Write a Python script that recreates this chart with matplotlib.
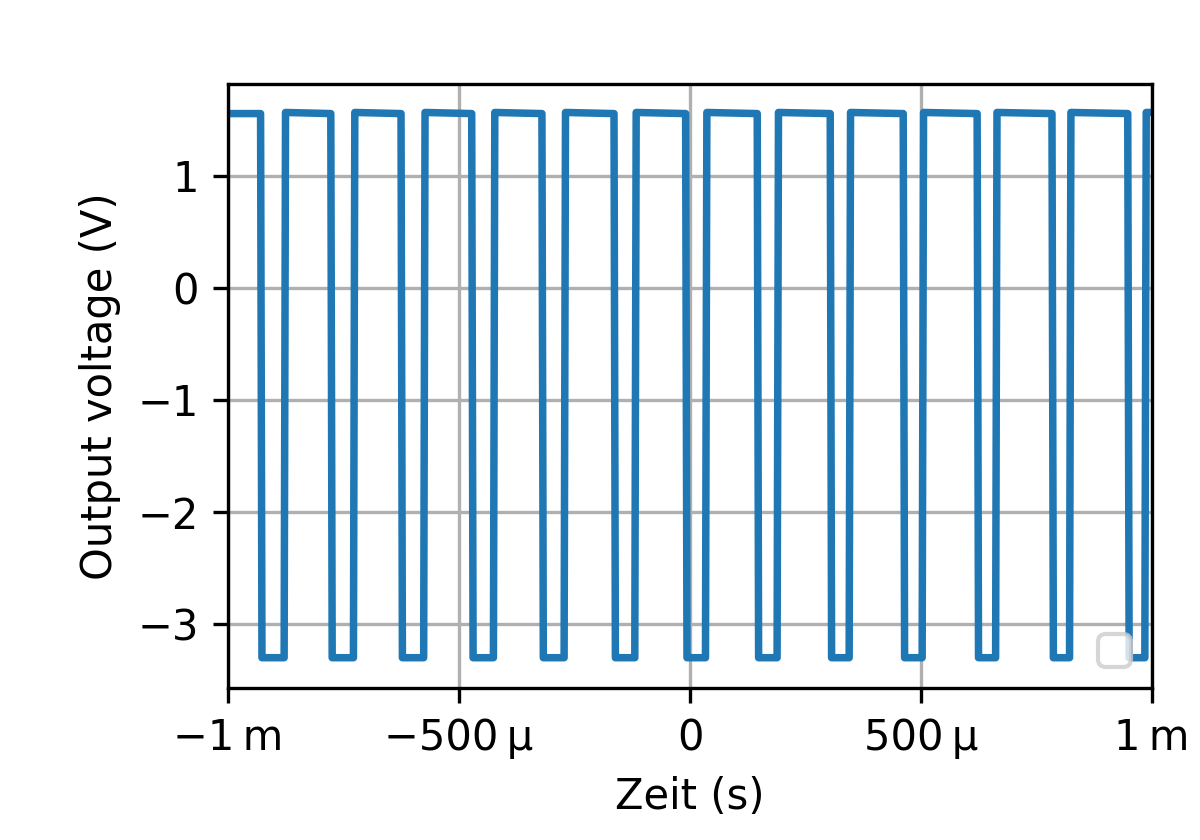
import matplotlib
matplotlib.use("Agg")
import matplotlib.pyplot as plt
from matplotlib.ticker import EngFormatter

# edge times (ms)
falling_ms = [-0.928, -0.776, -0.624, -0.471, -0.319, -0.163, -0.008,
              0.147, 0.305, 0.463, 0.623, 0.785, 0.949]
rising_ms = [-0.877, -0.727, -0.575, -0.424, -0.271, -0.118, 0.035,
             0.190, 0.346, 0.504, 0.663, 0.823, 0.986]

high_after_rise = 1.566   # V, just after a rising edge
high_before_fall = 1.556  # V, just before a falling edge
low_level = -3.30         # V
edge_half_ms = 0.0015     # half of the transition time

t_start_ms = -1.0
t_end_ms = 1.0


def build_trace():
    t = [t_start_ms * 1e-3]
    v = [high_before_fall]
    for f, r in zip(falling_ms, rising_ms):
        t += [(f - edge_half_ms) * 1e-3, (f + edge_half_ms) * 1e-3,
              (r - edge_half_ms) * 1e-3, (r + edge_half_ms) * 1e-3]
        v += [high_before_fall, low_level, low_level, high_after_rise]
    t.append(t_end_ms * 1e-3)
    v.append(high_after_rise)
    return t, v


if __name__ == "__main__":
    t, v = build_trace()

    fig, ax = plt.subplots(figsize=(4, 2.8), dpi=300)
    fig.subplots_adjust(left=0.19, right=0.96, bottom=0.181, top=0.9)

    ax.plot(t, v, lw=1.8)
    ax.grid(True)
    ax.set_xlim(-1e-3, 1e-3)
    ax.set_ylim(-3.57, 1.82)
    ax.xaxis.set_major_formatter(EngFormatter(sep="\N{THIN SPACE}"))
    ax.set_xlabel("Zeit (s)")
    ax.set_ylabel("Output voltage (V)")
    ax.legend(handles=[], loc="lower right")

    plt.savefig("out.png")
